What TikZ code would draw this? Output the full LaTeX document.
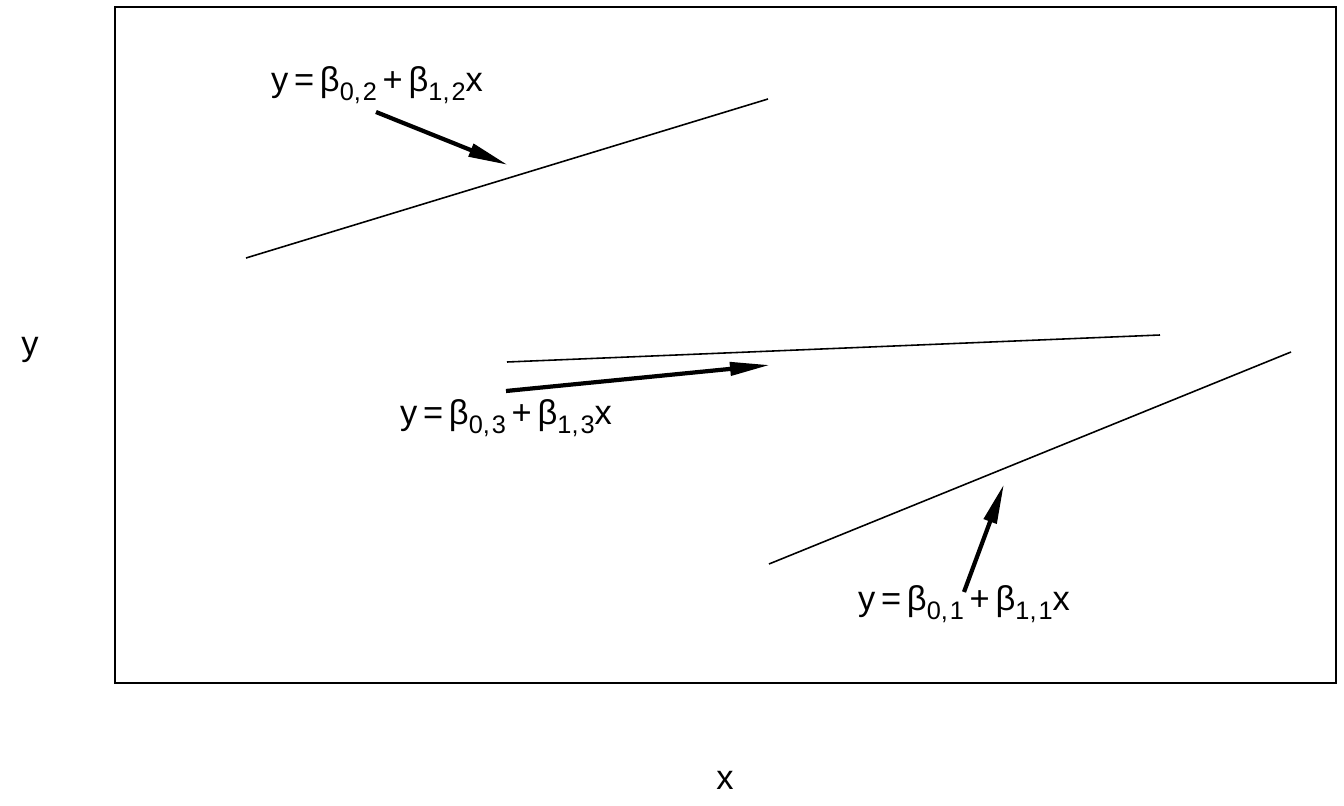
\documentclass[tikz,border=0pt]{standalone}
\usepackage{fontspec}
\setmainfont{Liberation Sans}
\usetikzlibrary{arrows.meta}
\newcommand{\sbs}[1]{\raisebox{-0.5ex}{\fontsize{7.2}{8}\selectfont #1}}
\newcommand{\fiteq}[1]{y\,=\,β\sbs{0,\kern0.08em#1}\,+\,β\sbs{1,\kern0.08em#1}x}

\begin{document}
\begin{tikzpicture}[x=0.01cm, y=-0.01cm,
	fitline/.style={line width=0.45pt},
	pointer/.style={line width=1.2pt, -{Triangle[length=4mm, width=1.3mm]}},
	eqn/.style={font=\fontsize{9.8}{12}\selectfont}]
	\useasboundingbox (0,0) rectangle (1344,806);
	\draw [line width=0.5pt] (115,7) rectangle (1336,683);
	% axis labels
	\node [eqn] (ylab) at (30,350) {y};
	\node [eqn] (xlab) at (725,780) {x};
	% fitted lines
	\coordinate (a1) at (769,564);
	\coordinate (b1) at (1291,352);
	\coordinate (a2) at (246,258);
	\coordinate (b2) at (768,99);
	\coordinate (a3) at (507,362);
	\coordinate (b3) at (1160,335);
	\draw [fitline] (a1) -- (b1);
	\draw [fitline] (a2) -- (b2);
	\draw [fitline] (a3) -- (b3);
	% labels
	\node [eqn] (eq1) at (964,604) {\fiteq{1}};
	\node [eqn] (eq2) at (377,85) {\fiteq{2}};
	\node [eqn] (eq3) at (506,418) {\fiteq{3}};
	\coordinate (s1) at (964,592);
	\coordinate (t1) at (1004,484);
	\coordinate (s2) at (376,112);
	\coordinate (t2) at (508,165);
	\coordinate (s3) at (506,391);
	\coordinate (t3) at (770,365);
	\draw [pointer] (s1) -- (t1);
	\draw [pointer] (s2) -- (t2);
	\draw [pointer] (s3) -- (t3);
\end{tikzpicture}
\end{document}
